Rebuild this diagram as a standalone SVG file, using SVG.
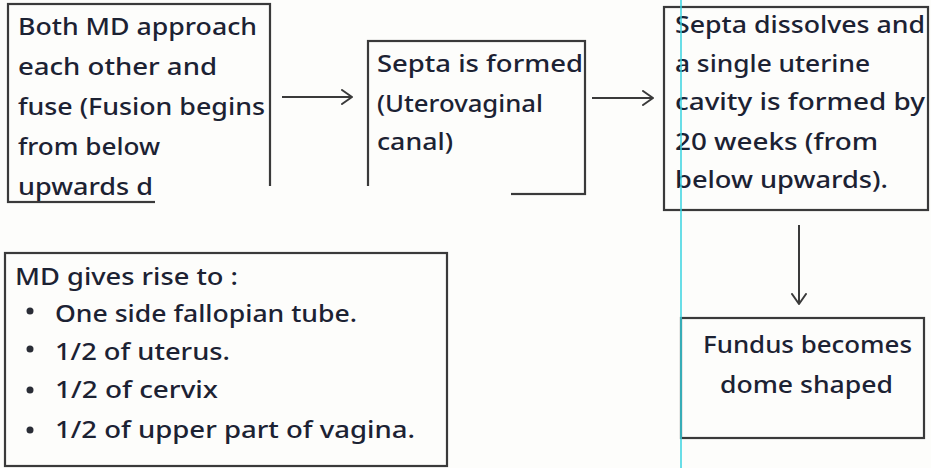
<svg xmlns="http://www.w3.org/2000/svg" width="931" height="468" viewBox="0 0 931 468">
<defs>
<marker id="ah" viewBox="0 0 12 16" refX="11" refY="8" markerWidth="12" markerHeight="16" markerUnits="userSpaceOnUse" orient="auto">
<path d="M1,1 L11,8 L1,15" fill="none" stroke="#3a3a3a" stroke-width="2" stroke-linecap="round" stroke-linejoin="round"/>
</marker>
<style>
.box{fill:none;stroke:#3a3a3a;stroke-width:2.2}
.t{font-family:"Noto Sans","Open Sans",sans-serif;font-size:24px;font-weight:500;fill:#1c2233}
.con{fill:none;stroke:#3a3a3a;stroke-width:2}
.margin{stroke:#37d3e0;stroke-width:1.5}
.bul{fill:#2a2d36}
</style>
</defs>
<rect width="931" height="468" fill="#fdfdfb"/>

<g id="node-fusion">
<rect class="box" x="8" y="4" width="262" height="198"/>
<text class="t" x="18" y="35" textLength="239" lengthAdjust="spacingAndGlyphs">Both MD approach</text>
<text class="t" x="18" y="75" textLength="199" lengthAdjust="spacingAndGlyphs">each other and</text>
<text class="t" x="18" y="115" textLength="247" lengthAdjust="spacingAndGlyphs">fuse (Fusion begins</text>
<text class="t" x="18" y="155" textLength="142" lengthAdjust="spacingAndGlyphs">from below</text>
<text class="t" x="18" y="195" textLength="135" lengthAdjust="spacingAndGlyphs">upwards d</text>
</g>

<g id="node-septa">
<rect class="box" x="368" y="41" width="217" height="153"/>
<text class="t" x="377" y="72" textLength="206" lengthAdjust="spacingAndGlyphs">Septa is formed</text>
<text class="t" x="377" y="112" textLength="166" lengthAdjust="spacingAndGlyphs">(Uterovaginal</text>
<text class="t" x="377" y="150" textLength="76" lengthAdjust="spacingAndGlyphs">canal)</text>
</g>

<rect x="155" y="186" width="356" height="30" fill="#fdfdfb"/>

<g id="node-dissolve">
<rect class="box" x="664" y="7" width="264" height="203"/>
<text class="t" x="675" y="33" textLength="250" lengthAdjust="spacingAndGlyphs">Septa dissolves and</text>
<text class="t" x="675" y="72" textLength="195" lengthAdjust="spacingAndGlyphs">a single uterine</text>
<text class="t" x="675" y="110" textLength="250" lengthAdjust="spacingAndGlyphs">cavity is formed by</text>
<text class="t" x="675" y="150" textLength="203" lengthAdjust="spacingAndGlyphs">20 weeks (from</text>
<text class="t" x="675" y="188" textLength="213" lengthAdjust="spacingAndGlyphs">below upwards).</text>
</g>

<g id="node-fundus">
<rect class="box" x="681" y="318" width="243" height="120"/>
<text class="t" x="703" y="353" textLength="209" lengthAdjust="spacingAndGlyphs">Fundus becomes</text>
<text class="t" x="720" y="393" textLength="173" lengthAdjust="spacingAndGlyphs">dome shaped</text>
</g>

<g id="node-md">
<rect class="box" x="5" y="253" width="442" height="213"/>
<text class="t" x="15" y="285" textLength="223" lengthAdjust="spacingAndGlyphs">MD gives rise to :</text>
<circle class="bul" cx="30" cy="311" r="3.5"/>
<text class="t" x="55" y="322" textLength="302" lengthAdjust="spacingAndGlyphs">One side fallopian tube.</text>
<circle class="bul" cx="30" cy="349" r="3.5"/>
<text class="t" x="55" y="360" textLength="175" lengthAdjust="spacingAndGlyphs">1/2 of uterus.</text>
<circle class="bul" cx="30" cy="390" r="3.5"/>
<text class="t" x="55" y="398" textLength="163" lengthAdjust="spacingAndGlyphs">1/2 of cervix</text>
<circle class="bul" cx="30" cy="430" r="3.5"/>
<text class="t" x="55" y="438" textLength="360" lengthAdjust="spacingAndGlyphs">1/2 of upper part of vagina.</text>
</g>

<g id="connectors">
<line class="con" x1="282" y1="97" x2="352" y2="97" marker-end="url(#ah)"/>
<line class="con" x1="592" y1="98" x2="653" y2="98" marker-end="url(#ah)"/>
<line class="con" x1="799" y1="225" x2="799" y2="304" marker-end="url(#ah)"/>
</g>

<line class="margin" x1="681" y1="0" x2="681" y2="468"/>
</svg>
